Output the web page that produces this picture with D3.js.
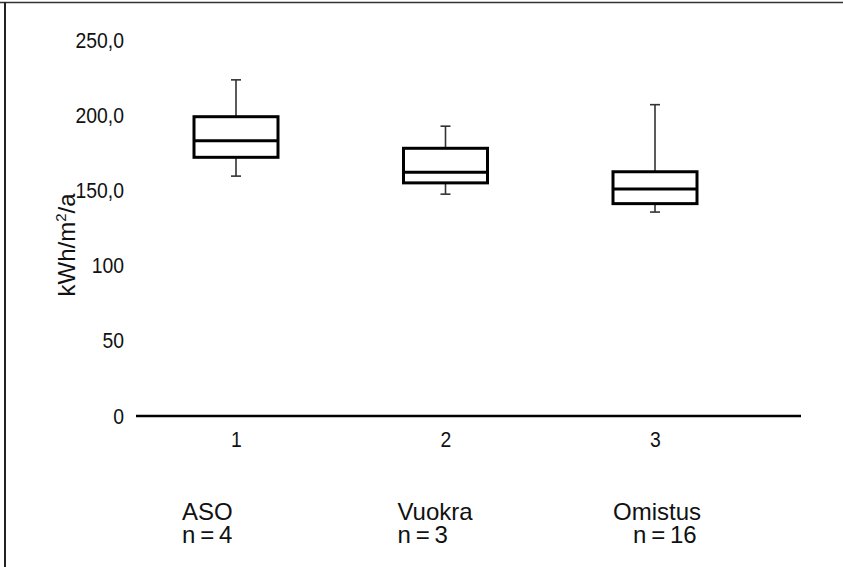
<!DOCTYPE html>
<html>
<head>
<meta charset="utf-8">
<script src="https://cdn.jsdelivr.net/npm/d3@7"></script>
<style>
  html, body { margin: 0; padding: 0; background: #fff; }
  svg { display: block; }
  text { font-family: "Liberation Sans", Arial, sans-serif; fill: #111; }
</style>
</head>
<body>
<svg id="chart" width="843" height="567"></svg>
<script>
// ---- data ----
var categories = [1, 2, 3];
var groupNames = ['ASO', 'Vuokra', 'Omistus'];
var groupCounts = ['n\u2009=\u20094', 'n\u2009=\u20093', '   n\u2009=\u200916'];
var whiskerHigh = [223.5, 192.7, 207.0];
var upperQuartile = [199.0, 178.0, 162.4];
var medians = [183.0, 162.0, 150.9];
var lowerQuartile = [172.0, 155.0, 141.2];
var whiskerLow = [159.5, 147.5, 135.6];
var yTickValues = [0, 50, 100, 150, 200, 250];
var yTickLabels = ['0', '50', '100', '150,0', '200,0', '250,0'];

var svg = d3.select('#chart');
var width = +svg.attr('width');
var height = +svg.attr('height');

var baseLeft = 136, baseRight = 801; // extent of the zero line
var boxWidth = 84;
var capWidth = 10;
var narrow = 0.88; // no condensed font installed, squeeze the regular one

var y = d3.scaleLinear().domain([0, 250]).range([416, 40]);
var x = d3.scaleLinear().domain([1, 3]).range([236, 655]);
var labelX = d3.scalePoint().domain(groupNames).range([182, 613]);

var boxes = categories.map(function (c, i) {
  return {
    cat: c,
    hi: whiskerHigh[i],
    q3: upperQuartile[i],
    med: medians[i],
    q1: lowerQuartile[i],
    lo: whiskerLow[i]
  };
});

// frame lines (top and left)
svg.append('line')
  .attr('x1', 0).attr('x2', width)
  .attr('y1', 2.5).attr('y2', 2.5)
  .attr('stroke', '#333').attr('stroke-width', 1.5);
svg.append('line')
  .attr('x1', 5).attr('x2', 5)
  .attr('y1', 2).attr('y2', height)
  .attr('stroke', '#222').attr('stroke-width', 2);

// y axis labels only
var yAxis = svg.append('g')
  .attr('transform', 'translate(' + baseLeft + ',0)')
  .call(d3.axisLeft(y)
    .tickValues(yTickValues)
    .tickSize(0)
    .tickPadding(12)
    .tickFormat(function (d, i) { return yTickLabels[i]; }));
yAxis.select('.domain').remove();
yAxis.attr('font-family', null).attr('font-size', null);
yAxis.selectAll('text')
  .style('font-size', '22px')
  .attr('x', -12 / narrow)
  .attr('transform', 'scale(' + narrow + ',1)');

// y axis title
var title = svg.append('text')
  .attr('transform', 'translate(75,245) rotate(-90)')
  .attr('text-anchor', 'middle')
  .style('font-size', '24px');
title.append('tspan').text('kWh/m');
title.append('tspan').style('font-size', '15px').attr('dy', -9).text('2');
title.append('tspan').attr('dy', 9).text('/a');

// zero line
svg.append('line')
  .attr('x1', baseLeft).attr('x2', baseRight)
  .attr('y1', y(0)).attr('y2', y(0))
  .attr('stroke', '#000').attr('stroke-width', 2.5);

// category numbers
var xAxis = svg.append('g')
  .attr('transform', 'translate(0,' + y(0) + ')')
  .call(d3.axisBottom(x).tickValues(categories).tickSize(0).tickPadding(15).tickFormat(d3.format('d')));
xAxis.select('.domain').remove();
xAxis.attr('font-family', null).attr('font-size', null);
xAxis.selectAll('text')
  .style('font-size', '22px')
  .attr('transform', 'scale(' + narrow + ',1)');

// boxes
var g = svg.selectAll('.box')
  .data(boxes)
  .enter().append('g')
  .attr('class', 'box');

g.append('line')
  .attr('x1', function (d) { return x(d.cat); })
  .attr('x2', function (d) { return x(d.cat); })
  .attr('y1', function (d) { return y(d.hi); })
  .attr('y2', function (d) { return y(d.q3); })
  .attr('stroke', '#333').attr('stroke-width', 1.6);
g.append('line')
  .attr('x1', function (d) { return x(d.cat); })
  .attr('x2', function (d) { return x(d.cat); })
  .attr('y1', function (d) { return y(d.q1); })
  .attr('y2', function (d) { return y(d.lo); })
  .attr('stroke', '#333').attr('stroke-width', 1.6);
['hi', 'lo'].forEach(function (k) {
  g.append('line')
    .attr('x1', function (d) { return x(d.cat) - capWidth / 2; })
    .attr('x2', function (d) { return x(d.cat) + capWidth / 2; })
    .attr('y1', function (d) { return y(d[k]); })
    .attr('y2', function (d) { return y(d[k]); })
    .attr('stroke', '#333').attr('stroke-width', 1.6);
});

g.append('rect')
  .attr('x', function (d) { return x(d.cat) - boxWidth / 2; })
  .attr('width', boxWidth)
  .attr('y', function (d) { return y(d.q3); })
  .attr('height', function (d) { return y(d.q1) - y(d.q3); })
  .attr('fill', '#fff')
  .attr('stroke', '#000')
  .attr('stroke-width', 3);

g.append('line')
  .attr('x1', function (d) { return x(d.cat) - boxWidth / 2; })
  .attr('x2', function (d) { return x(d.cat) + boxWidth / 2; })
  .attr('y1', function (d) { return y(d.med); })
  .attr('y2', function (d) { return y(d.med); })
  .attr('stroke', '#000').attr('stroke-width', 3);

// group names and counts
svg.selectAll('.gname')
  .data(groupNames)
  .enter().append('text')
  .attr('class', 'gname')
  .attr('x', function (d) { return labelX(d); })
  .attr('y', 520)
  .style('font-size', '24px')
  .text(function (d) { return d; });

svg.selectAll('.gcount')
  .data(groupCounts)
  .enter().append('text')
  .attr('class', 'gcount')
  .attr('x', function (d, i) { return labelX(groupNames[i]); })
  .attr('y', 543)
  .style('font-size', '24px')
  .style('white-space', 'pre')
  .text(function (d) { return d; });
</script>
</body>
</html>
